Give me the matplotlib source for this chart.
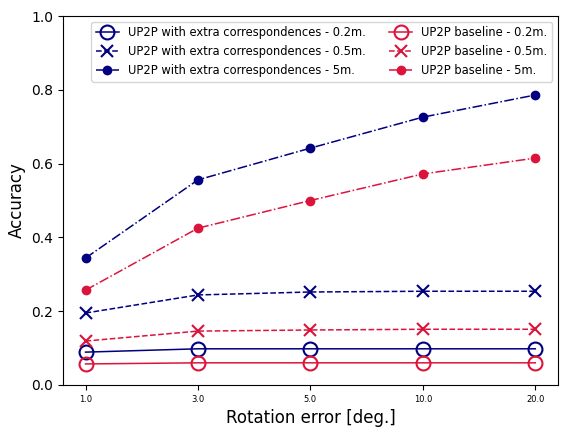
import matplotlib
import matplotlib.pyplot as plt
import numpy as np

matplotlib.use("Agg")

rot_labels = ["1.0", "3.0", "5.0", "10.0", "20.0"]

extra_02 = [0.089, 0.098, 0.098, 0.098, 0.098]
extra_05 = [0.195, 0.244, 0.252, 0.254, 0.254]
extra_5 = [0.344, 0.556, 0.642, 0.726, 0.786]
base_02 = [0.057, 0.060, 0.060, 0.060, 0.060]
base_05 = [0.119, 0.146, 0.149, 0.151, 0.151]
base_5 = [0.257, 0.425, 0.500, 0.572, 0.615]

x = np.arange(len(rot_labels))
lw = 1.1

fig = plt.figure(figsize=(5.68, 4.34), dpi=100)
ax = fig.add_axes([0.111, 0.113, 0.871, 0.85])

ax.plot(x, extra_02, color="navy", ls="-", lw=lw, marker="o", ms=10, mfc="none", mew=1.5,
        label="UP2P with extra correspondences - 0.2m.")
ax.plot(x, extra_05, color="navy", ls="--", lw=lw, marker="x", ms=8, mew=1.5,
        label="UP2P with extra correspondences - 0.5m.")
ax.plot(x, extra_5, color="navy", ls="-.", lw=lw, marker="o", ms=6,
        label="UP2P with extra correspondences - 5m.")
ax.plot(x, base_02, color="crimson", ls="-", lw=lw, marker="o", ms=10, mfc="none", mew=1.5,
        label="UP2P baseline - 0.2m.")
ax.plot(x, base_05, color="crimson", ls="--", lw=lw, marker="x", ms=8, mew=1.5,
        label="UP2P baseline - 0.5m.")
ax.plot(x, base_5, color="crimson", ls="-.", lw=lw, marker="o", ms=6,
        label="UP2P baseline - 5m.")

ax.set_xticks(x)
ax.set_xticklabels(rot_labels, fontsize=6)
ax.set_ylim(0, 1)
ax.set_xlabel("Rotation error [deg.]", fontsize=12)
ax.set_ylabel("Accuracy", fontsize=12)
ax.legend(ncol=2, loc="upper right", fontsize=8.3)

fig.savefig("out.png", dpi=100)
